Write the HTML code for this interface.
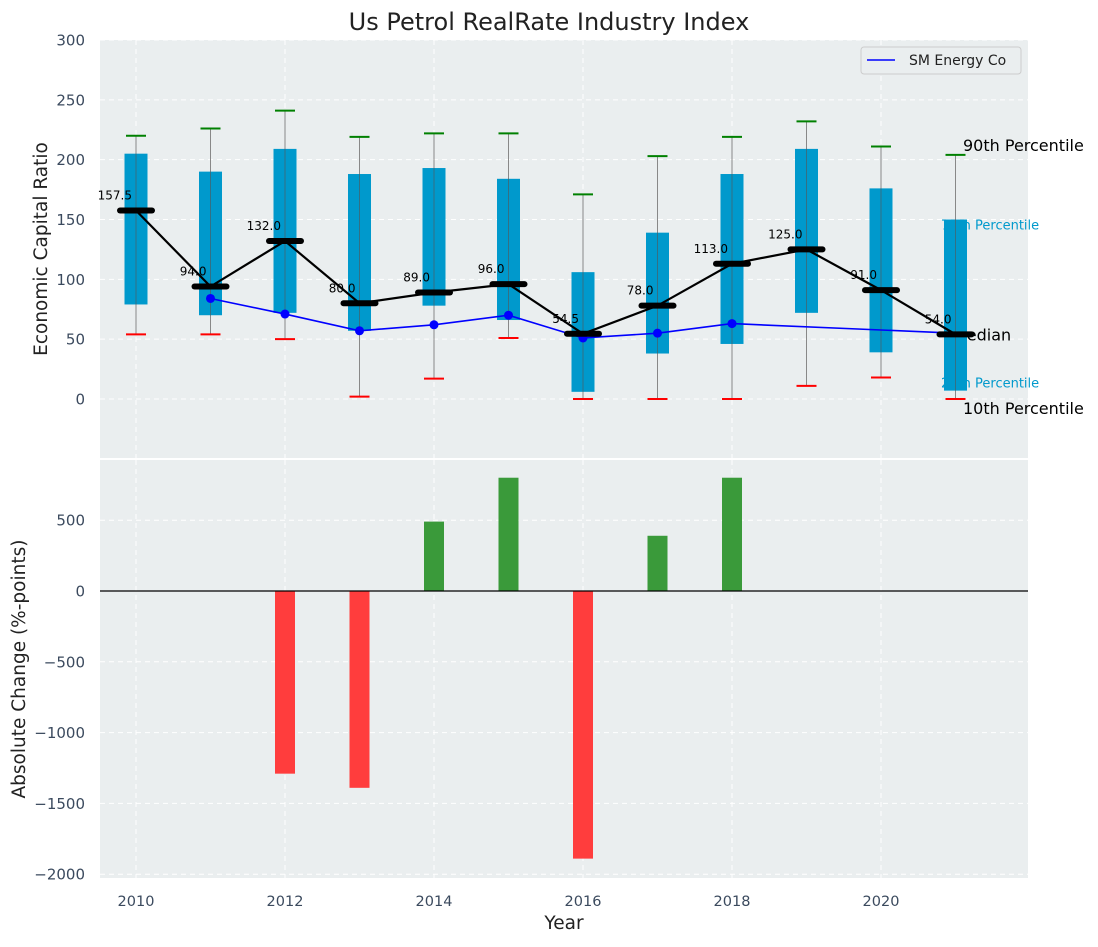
<!DOCTYPE html>
<html><head><meta charset="utf-8"><style>
body{margin:0;background:#fff;}
svg text{font-family:"DejaVu Sans","Liberation Sans",sans-serif;}
</style></head><body>
<svg id="c" width="1098" height="942" xmlns="http://www.w3.org/2000/svg"></svg>
<script>
const years=[2010,2011,2012,2013,2014,2015,2016,2017,2018,2019,2020,2021];
const p10=[54,54,50,2,17,51,0,0,0,11,18,0];
const p25=[79,70,72,57,78,66,6,38,46,72,39,7];
const med=[157.5,94,132,80,89,96,54.5,78,113,125,91,54];
const p75=[205,190,209,188,193,184,106,139,188,209,176,150];
const p90=[220,226,241,219,222,222,171,203,219,232,211,204];
const smYears=[2011,2012,2013,2014,2015,2016,2017,2018,2021];
const smVals=[84,71,57,62,70,51,55,63,55];
const smMarker=[1,1,1,1,1,1,1,1,0];
const changes=[0,0,-1290,-1390,490,800,-1890,390,800,0,0,0];
const topTicks=[0,50,100,150,200,250,300];
const botTicks=[500,0,-500,-1000,-1500,-2000];
const xTicks=[2010,2012,2014,2016,2018,2020];

const NS="http://www.w3.org/2000/svg";
const svg=document.getElementById('c');
function el(t,a,p){const e=document.createElementNS(NS,t);for(const k in a)e.setAttribute(k,a[k]);(p||svg).appendChild(e);return e;}
const xs=y=>136+(y-2010)*74.5;
const yT=v=>399-v*1.1967;
const yB=v=>591-v*0.1416;
const L=100,R=1028;

let e=el('rect',{x:L,y:40,width:R-L,height:418,fill:'#eaeeef'});

e=el('rect',{x:L,y:460,width:R-L,height:418,fill:'#eaeeef'});


xTicks.forEach(t=>{
  [[40,458],[460,878]].forEach(r=>{
    const g=el('line',{x1:xs(t),x2:xs(t),y1:r[0],y2:r[1],stroke:'#fff','stroke-dasharray':'5,4','stroke-width':1});
    
  });
  const tx=el('text',{x:xs(t),y:906,'text-anchor':'middle','font-size':14.5,fill:'#3b4a5e'});tx.textContent=t;
  
});
topTicks.forEach(t=>{
  const g=el('line',{x1:L,x2:R,y1:yT(t),y2:yT(t),stroke:'#fff','stroke-dasharray':'5,4'});
  
  const tx=el('text',{x:85,y:yT(t)+5.5,'text-anchor':'end','font-size':15,fill:'#3b4a5e'});tx.textContent=t;
  
});
botTicks.forEach(t=>{
  const g=el('line',{x1:L,x2:R,y1:yB(t),y2:yB(t),stroke:'#fff','stroke-dasharray':'5,4'});
  
  const tx=el('text',{x:85,y:yB(t)+5.5,'text-anchor':'end','font-size':15,fill:'#3b4a5e'});tx.textContent=t===0?'0':(t<0?'\u2212'+(-t):t);
  
});

const n=years.length-1;
[['90th Percentile',p90[n],'#000',16,963,-4],['75th Percentile',p75[n],'#0099cc',13,941,10],['Median',med[n],'#000',16,953,6],['25th Percentile',p25[n],'#0099cc',13,941,-3],['10th Percentile',p10[n],'#000',16,963,15]].forEach(a=>{
  const t=el('text',{x:a[4],y:yT(a[1])+a[5],'font-size':a[3],fill:a[2]});t.textContent=a[0];
  
});

years.forEach((y,i)=>{
  const x=xs(y);
  const w=el('line',{x1:x,x2:x,y1:yT(p90[i]),y2:yT(p10[i]),stroke:'#888','stroke-width':1});
  
  const b=el('rect',{x:x-11.5,y:yT(p75[i]),width:23,height:yT(p25[i])-yT(p75[i]),fill:'#0099cc'});
  
  el('line',{x1:x,x2:x,y1:yT(p75[i]),y2:yT(p25[i]),stroke:'#555','stroke-width':1,opacity:0.6});
  const c1=el('line',{x1:x-10,x2:x+10,y1:yT(p90[i]),y2:yT(p90[i]),stroke:'green','stroke-width':2});
  
  const c2=el('line',{x1:x-10,x2:x+10,y1:yT(p10[i]),y2:yT(p10[i]),stroke:'red','stroke-width':2});
  
});
let d=smYears.map((y,i)=>(i?'L':'M')+xs(y)+','+yT(smVals[i])).join(' ');
e=el('path',{d:d,fill:'none',stroke:'blue','stroke-width':1.6});

smYears.forEach((y,i)=>{if(smMarker[i]){const c=el('circle',{cx:xs(y),cy:yT(smVals[i]),r:4.5,fill:'blue'});
  }});
d=years.map((y,i)=>(i?'L':'M')+xs(y)+','+yT(med[i])).join(' ');
e=el('path',{d:d,fill:'none',stroke:'#000','stroke-width':2.2});

years.forEach((y,i)=>{
  const x=xs(y);
  const m=el('line',{x1:x-16,x2:x+16,y1:yT(med[i]),y2:yT(med[i]),stroke:'#000','stroke-width':6,'stroke-linecap':'round'});
  
  const t=el('text',{x:x-4,y:yT(med[i])-11,'text-anchor':'end','font-size':12,fill:'#000'});t.textContent=med[i].toFixed(1);
  
});

const lg=el('g',{});
el('rect',{x:861,y:47,width:160,height:27,rx:3,fill:'#eaeeef',stroke:'#ccc'},lg);
el('line',{x1:867,x2:895,y1:60,y2:60,stroke:'blue','stroke-width':1.6},lg);
e=el('text',{x:909,y:65,'font-size':14,fill:'#222'},lg);e.textContent='SM Energy Co';


years.forEach((y,i)=>{
  const v=changes[i];if(!v)return;
  const y1=yB(Math.max(v,0)),y2=yB(Math.min(v,0));
  const b=el('rect',{x:xs(y)-10,y:y1,width:20,height:y2-y1,fill:v>0?'#3a9a3a':'#ff3d3d'});
  
});
e=el('line',{x1:L,x2:R,y1:yB(0),y2:yB(0),stroke:'#000','stroke-width':1.2});


e=el('text',{x:549,y:30,'text-anchor':'middle','font-size':24,fill:'#222'});e.textContent='Us Petrol RealRate Industry Index';

e=el('text',{x:0,y:0,'text-anchor':'middle','font-size':18.5,fill:'#222',transform:'translate(47,249) rotate(-90)'});e.textContent='Economic Capital Ratio';

e=el('text',{x:0,y:0,'text-anchor':'middle','font-size':18.5,fill:'#222',transform:'translate(25,669) rotate(-90)'});e.textContent='Absolute Change (%-points)';

e=el('text',{x:564,y:929,'text-anchor':'middle','font-size':18.5,fill:'#222'});e.textContent='Year';

</script>
</body></html>
